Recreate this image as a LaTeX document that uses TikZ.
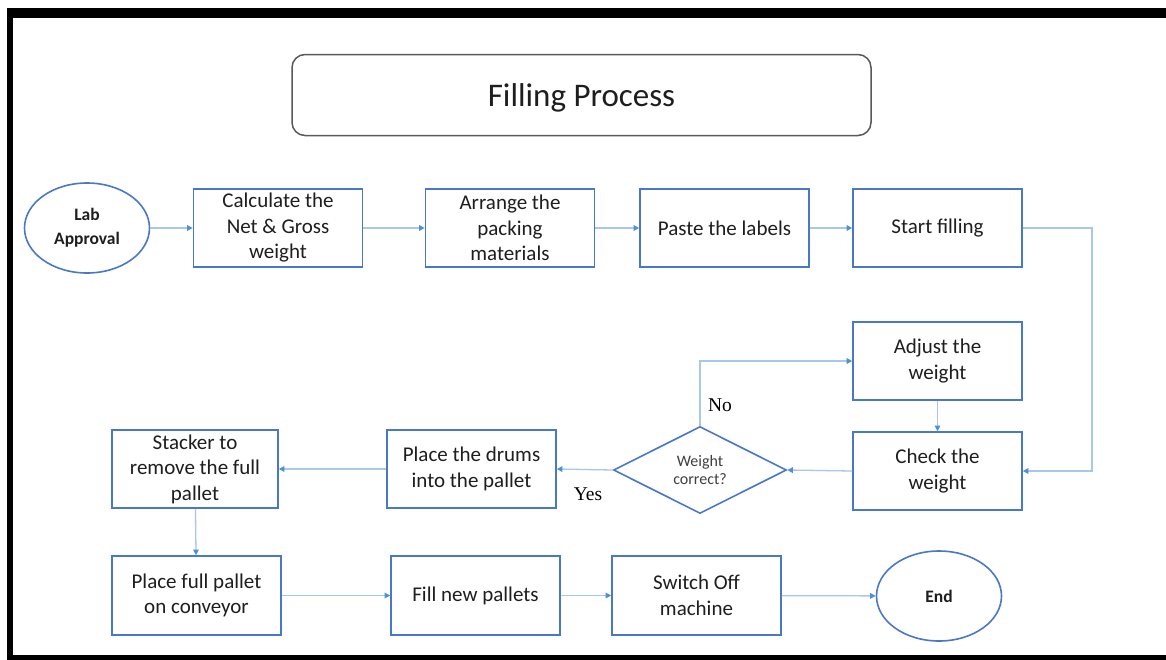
\documentclass[tikz,border=0pt]{standalone}
\usepackage{fontspec}
\setmainfont{Carlito}
\newfontfamily\labelfont{Liberation Serif}
\usetikzlibrary{shapes.geometric,arrows.meta}
\definecolor{boxblue}{HTML}{4A78C8}
\definecolor{lineblue}{HTML}{A7C7EC}
\definecolor{tipblue}{HTML}{4F90D6}
\definecolor{textgray}{HTML}{1E1E1E}
\tikzset{
  stepbox/.style={draw=boxblue, line width=1.6pt, rectangle, minimum width=169pt,
    minimum height=78pt, align=center, inner sep=2pt, text=textgray,
    font=\fontsize{21}{25.5}\selectfont},
  terminal/.style={draw=boxblue, line width=1.6pt, ellipse, minimum width=125pt,
    minimum height=90pt, align=center, inner sep=0pt, text=textgray,
    font=\bfseries\fontsize{17.5}{24}\selectfont},
  decision/.style={draw=boxblue, line width=1.6pt, diamond, minimum width=173pt,
    minimum height=87pt, inner sep=0pt, align=center, text=textgray!85,
    font=\fontsize{16}{18.5}\selectfont},
  flow/.style={draw=lineblue, line width=1.3pt,
    -{Triangle[length=5.5pt,width=5.5pt,fill=tipblue,color=tipblue]}},
  branch/.style={font=\labelfont\fontsize{19.5}{22}\selectfont, text=black}
}
\begin{document}
\begin{tikzpicture}[x=1pt,y=-1pt]
\useasboundingbox (0,0) rectangle (1166,659);
\fill[white] (0,0) rectangle (1166,659);
% outer frame
\draw[line width=10pt] (7,13) -- (1170,13);
\draw[line width=6pt] (10,8) -- (10,665);
\draw[line width=6pt] (7,658) -- (1170,658);

% title
\node[draw=black!65, line width=1.5pt, rounded corners=13pt, minimum width=579pt,
  minimum height=81pt, text depth=0pt, font=\fontsize{33}{36}\selectfont, text=textgray]
  (title) at (581.5,95) {Filling Process};

% top row
\node[terminal] (lab) at (87,228) {Lab\\Approval};
\node[stepbox] (calc) at (278,228) {Calculate the\\Net \& Gross\\weight};
\node[stepbox] (arrange) at (510,228) {Arrange the\\packing\\materials};
\node[stepbox] (paste) at (724.5,228) {Paste the labels};
\node[stepbox] (start) at (937.5,228) {Start filling};

% weighing loop
\node[stepbox] (adjust) at (937.5,361) {Adjust the\\weight};
\node[stepbox] (check) at (937.5,471) {Check the\\weight};
\node[decision] (dia) at (700,470) {Weight\\correct?};
\node[stepbox] (drums) at (471.5,469) {Place the drums\\into the pallet};
\node[stepbox, minimum width=166pt] (stacker) at (195,469) {Stacker to\\remove the full\\pallet};

% bottom row
\node[stepbox, minimum height=79pt] (pallet) at (196.5,595.5) {Place full pallet\\on conveyor};
\node[stepbox, minimum height=79pt] (fill) at (475.5,595.5) {Fill new pallets};
\node[stepbox, minimum height=79pt] (switch) at (696.5,595.5) {Switch Off\\machine};
\node[terminal] (end) at (939,596) {End};

% connectors
\draw[flow] (lab) -- (calc);
\draw[flow] (calc) -- (arrange);
\draw[flow] (arrange) -- (paste);
\draw[flow] (paste) -- (start);
\coordinate (rt) at (1092,471);
\draw[flow] (start.east) -| (rt) -- (check.east);
\draw[flow] (check.west) -- (dia.east);
\draw[flow] (dia.north) |- (adjust.west);
\draw[flow] (adjust) -- (check);
\draw[flow] (dia.west) -- (drums.east);
\draw[flow] (drums) -- (stacker);
\draw[flow] (stacker) -- (pallet);
\draw[flow] (pallet) -- (fill);
\draw[flow] (fill) -- (switch);
\draw[flow] (switch) -- (end);

% branch labels
\node[branch] (no) at (720,405) {No};
\node[branch] (yes) at (588,494) {Yes};
\end{tikzpicture}
\end{document}
